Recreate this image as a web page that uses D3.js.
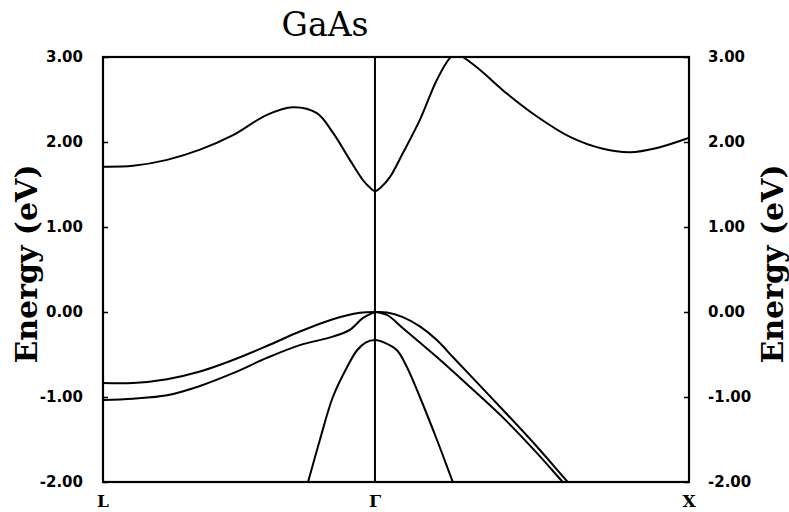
<!DOCTYPE html>
<html>
<head>
<meta charset="utf-8">
<script src="https://cdn.jsdelivr.net/npm/d3@7"></script>
<style>
  body { margin: 0; background: #fff; }
  svg { display: block; }
  .tick text { font-family: "DejaVu Sans", sans-serif; font-weight: bold; font-size: 15px; }
  .band { fill: none; stroke: #000; stroke-width: 2; stroke-linejoin: round; }
</style>
</head>
<body>
<svg width="789" height="512"></svg>
<script>
/*global d3*/

// k-path positions (L - Gamma - X) and their labels
var symPoints = [0, 0.866, 1.866]
var symLabels = ['L', '\u0393', 'X']

var energyTicks = [-2, -1, 0, 1, 2, 3]

// bands as [k, E(eV)]
var conduction = [
  [0, 1.71], [0.0955, 1.72], [0.204, 1.79], [0.309, 1.91], [0.414, 2.08],
  [0.522, 2.32], [0.605, 2.41], [0.681, 2.34], [0.732, 2.11], [0.786, 1.79],
  [0.828, 1.55], [0.848, 1.47], [0.866, 1.42], [0.886, 1.47], [0.914, 1.59],
  [0.955, 1.87], [1.009, 2.26], [1.063, 2.73], [1.105, 2.99], [1.127, 3.04],
  [1.146, 3.0], [1.2, 2.85], [1.273, 2.61], [1.382, 2.3], [1.487, 2.06],
  [1.592, 1.92], [1.678, 1.88], [1.764, 1.93], [1.859, 2.04], [1.866, 2.05]
]
var heavyHoleL = [
  [0, -0.835], [0.0955, -0.835], [0.204, -0.79], [0.309, -0.7], [0.414, -0.565],
  [0.522, -0.4], [0.627, -0.23], [0.732, -0.085], [0.818, -0.01], [0.866, 0]
]
var lightHoleL = [
  [0, -1.035], [0.0955, -1.02], [0.204, -0.98], [0.309, -0.87], [0.414, -0.72],
  [0.522, -0.54], [0.627, -0.39], [0.732, -0.29], [0.786, -0.21], [0.828, -0.07],
  [0.866, 0]
]
var heavyHoleR = [
  [0.866, 0], [0.904, -0.005], [0.955, -0.06], [1.009, -0.17], [1.063, -0.33],
  [1.114, -0.53], [1.168, -0.74], [1.273, -1.15], [1.382, -1.585], [1.48, -2.0],
  [1.51, -2.12]
]
var lightHoleR = [
  [0.866, 0], [0.904, -0.035], [0.955, -0.19], [1.063, -0.53], [1.168, -0.88],
  [1.273, -1.24], [1.382, -1.66], [1.464, -2.0], [1.49, -2.1]
]
var splitOff = [
  [0.645, -2.1], [0.653, -2.0], [0.691, -1.5], [0.732, -1.0], [0.777, -0.65],
  [0.809, -0.45], [0.836, -0.36], [0.866, -0.33], [0.896, -0.36], [0.936, -0.45],
  [0.968, -0.65], [1.009, -1.0], [1.063, -1.5], [1.114, -2.0], [1.125, -2.1]
]

var bands = [conduction, heavyHoleL, lightHoleL, heavyHoleR, lightHoleR, splitOff]

;(function () {

  var svg = d3.select('svg')
  var x0 = 103, x1 = 689, y0 = 57, y1 = 482

  var x = d3.scaleLinear().domain([symPoints[0], symPoints[2]]).range([x0, x1])
  var y = d3.scaleLinear().domain([-2, 3]).range([y1, y0])

  svg.append('defs').append('clipPath').attr('id', 'plot')
    .append('rect')
    .attr('x', x0).attr('y', y0)
    .attr('width', x1 - x0).attr('height', y1 - y0)

  var line = d3.line()
    .x(function (d) { return x(d[0]) })
    .y(function (d) { return y(d[1]) })
    .curve(d3.curveCatmullRom.alpha(0.5))

  svg.append('g')
    .attr('clip-path', 'url(#plot)')
    .selectAll('path')
    .data(bands)
    .enter().append('path')
    .attr('class', 'band')
    .attr('d', line)

  // Gamma line
  svg.append('line')
    .attr('x1', x(symPoints[1])).attr('x2', x(symPoints[1]))
    .attr('y1', y0).attr('y2', y1)
    .attr('stroke', '#000').attr('stroke-width', 2)

  var fmt = function (d) { return d3.format('.2f')(d).replace('\u2212', '-') }

  var axL = svg.append('g')
    .attr('transform', 'translate(' + x0 + ',0)')
    .call(d3.axisLeft(y).tickValues(energyTicks).tickFormat(fmt).tickSizeInner(-5).tickSizeOuter(0).tickPadding(20))
  var axR = svg.append('g')
    .attr('transform', 'translate(' + x1 + ',0)')
    .call(d3.axisRight(y).tickValues(energyTicks).tickFormat(fmt).tickSizeInner(-5).tickSizeOuter(0).tickPadding(19))
  ;[axL, axR].forEach(function (g) {
    g.select('.domain').remove()
    g.selectAll('.tick line').attr('stroke-width', 1.5)
    g.selectAll('.tick text').attr('fill', '#000')
  })

  // frame
  svg.append('rect')
    .attr('x', x0).attr('y', y0)
    .attr('width', x1 - x0).attr('height', y1 - y0)
    .attr('fill', 'none').attr('stroke', '#000').attr('stroke-width', 2.2)

  // symmetry point labels
  svg.selectAll('.sym')
    .data(symPoints)
    .enter().append('text')
    .attr('class', 'sym')
    .attr('x', function (d) { return x(d) })
    .attr('y', 507)
    .attr('text-anchor', 'middle')
    .style('font-family', '"DejaVu Serif", serif')
    .style('font-weight', 'bold')
    .style('font-size', '17px')
    .text(function (d, i) { return symLabels[i] })

  svg.append('text')
    .attr('x', 325).attr('y', 36)
    .attr('text-anchor', 'middle')
    .style('font-family', '"DejaVu Serif", serif')
    .style('font-size', '33px')
    .text('GaAs')

  ;[37, 783].forEach(function (bx) {
    svg.append('text')
      .attr('transform', 'translate(' + bx + ',264) rotate(-90)')
      .attr('text-anchor', 'middle')
      .style('font-family', '"DejaVu Serif", serif')
      .style('font-weight', 'bold')
      .style('font-size', '30px')
      .text('Energy (eV)')
  })

})()
</script>
</body>
</html>
